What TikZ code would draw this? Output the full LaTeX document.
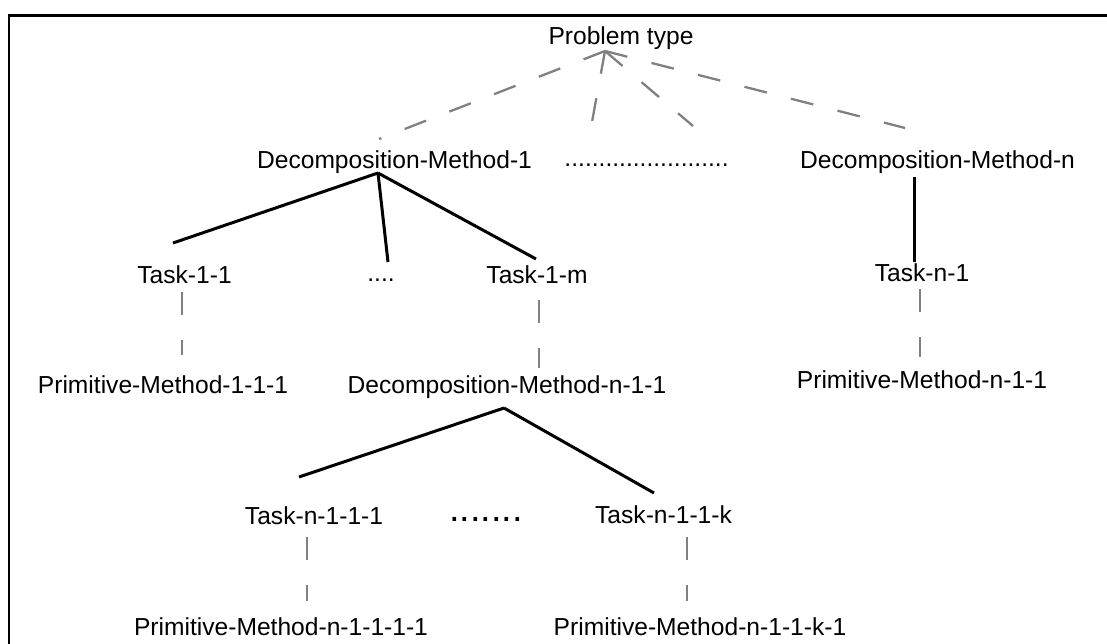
\documentclass[tikz,border=0pt]{standalone}
\usepackage{fontspec}
\setmainfont{Liberation Sans}
\definecolor{lnkgray}{RGB}{128,128,128}
\begin{document}
\begin{tikzpicture}[x=1pt,y=-1pt,
  lbl/.style={anchor=base,inner sep=0pt,font=\fontsize{24.6}{30}\selectfont},
  bigdots/.style={anchor=base,inner sep=0pt,font=\fontsize{38}{40}\selectfont},
  treeline/.style={line width=3pt,black},
  dashedlink/.style={line width=2.3pt,lnkgray,dash pattern=on 23pt off 25pt},
  framebox/.style={line width=2.5pt,black}]
\useasboundingbox (0,0) rectangle (1107,644);
\draw[framebox] (9.2,644) -- (9.2,15.5) -- (1107,15.5);

% text nodes
\node[lbl] (pt) at (621,44.5) {Problem type};
\node[lbl] (dm1) at (394.5,168.5) {Decomposition-Method-1};
\node[lbl] (dotsA) at (646.5,167) {........................};
\node[lbl] (dmn) at (937.5,168.5) {Decomposition-Method-n};
\node[lbl] (t11) at (184.5,283.5) {Task-1-1};
\node[lbl] (dotsB) at (381,281) {....};
\node[lbl] (t1m) at (537,283.5) {Task-1-m};
\node[lbl] (tn1) at (922,281) {Task-n-1};
\node[lbl] (pm111) at (163,393) {Primitive-Method-1-1-1};
\node[lbl] (dmn11) at (507,393) {Decomposition-Method-n-1-1};
\node[lbl] (pmn11) at (922,388.5) {Primitive-Method-n-1-1};
\node[lbl] (tn111) at (314,524) {Task-n-1-1-1};
\node[bigdots] (dotsC) at (486,521.5) {.......};
\node[lbl] (tn11k) at (663.5,523) {Task-n-1-1-k};
\node[lbl] (pmn1111) at (281,635) {Primitive-Method-n-1-1-1-1};
\node[lbl] (pmn11k1) at (700,635) {Primitive-Method-n-1-1-k-1};

% connector end points
\coordinate (ptA) at (605,51);
\coordinate (dm1In) at (379,139);
\coordinate (dotsAIn1) at (592,122);
\coordinate (dotsAIn2) at (693,126);
\coordinate (dmnIn) at (905,128);
\coordinate (dm1A) at (378,173);
\coordinate (t11In) at (173,243);
\coordinate (dotsBIn) at (388,262);
\coordinate (t1mIn) at (536,259);
\coordinate (dmnA) at (914,177);
\coordinate (tn1In) at (914,262);
\coordinate (t11Out) at (181.7,292);
\coordinate (pm111In) at (181.7,355);
\coordinate (t1mOut) at (539,300);
\coordinate (dmn11In) at (539,368);
\coordinate (tn1Out) at (920,289);
\coordinate (pmn11In) at (920,357);
\coordinate (dmn11A) at (504,408);
\coordinate (tn111In) at (299,477);
\coordinate (tn11kIn) at (654,493);
\coordinate (tn111Out) at (306.7,537);
\coordinate (pmn1111In) at (306.7,601);
\coordinate (tn11kOut) at (687,537);
\coordinate (pmn11k1In) at (687,601);

% dashed gray links
\draw[dashedlink] (ptA) -- (dm1In);
\draw[dashedlink] (ptA) -- (dotsAIn1);
\draw[dashedlink] (ptA) -- (dotsAIn2);
\draw[dashedlink] (ptA) -- (dmnIn);
\draw[dashedlink] (t11Out) -- (pm111In);
\draw[dashedlink] (t1mOut) -- (dmn11In);
\draw[dashedlink] (tn1Out) -- (pmn11In);
\draw[dashedlink] (tn111Out) -- (pmn1111In);
\draw[dashedlink] (tn11kOut) -- (pmn11k1In);

% solid tree lines
\draw[treeline] (dm1A) -- (t11In);
\draw[treeline] (dm1A) -- (dotsBIn);
\draw[treeline] (dm1A) -- (t1mIn);
\draw[treeline] (dmnA) -- (tn1In);
\draw[treeline] (dmn11A) -- (tn111In);
\draw[treeline] (dmn11A) -- (tn11kIn);
\end{tikzpicture}
\end{document}
